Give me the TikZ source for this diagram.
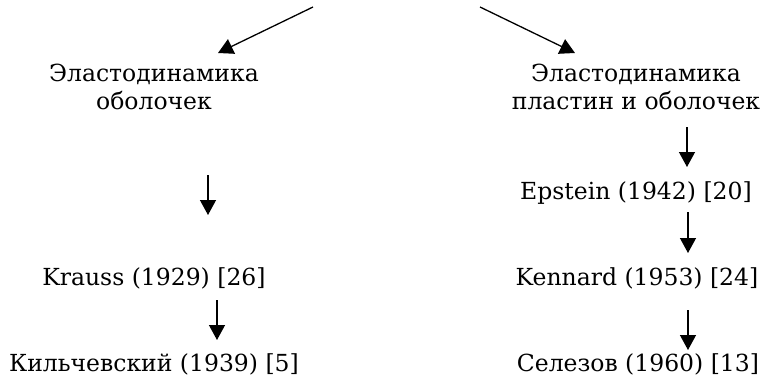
\documentclass[tikz,border=0pt]{standalone}
\usepackage{fontspec}
\setmainfont{DejaVu Serif}
\usetikzlibrary{arrows.meta}

\begin{document}
\begin{tikzpicture}[x=1pt,y=-1pt,
  lbl/.style={inner sep=0pt,align=center,font=\fontsize{23.5}{28}\selectfont},
  arr/.style={-{Triangle[length=15pt,width=16pt]},line width=1.3pt}]
 \useasboundingbox (0,0) rectangle (763,383);
 \node[lbl] at (154,87) (lshell) {Эластодинамика\\оболочек};
 \node[lbl] at (636,87) (rshell) {Эластодинамика\\пластин и оболочек};
 \node[lbl,anchor=base] at (154,285) (krauss) {Krauss (1929) [26]};
 \node[lbl,anchor=base] at (154,371) (kilch) {Кильчевский (1939) [5]};
 \node[lbl,anchor=base] at (636,199) (epstein) {Epstein (1942) [20]};
 \node[lbl,anchor=base] at (637,285) (kennard) {Kennard (1953) [24]};
 \node[lbl,anchor=base] at (638,371) (selez) {Селезов (1960) [13]};
 %
 \coordinate (t1) at (313,7);
 \coordinate (t2) at (480,7);
 \coordinate (l1) at (218,53);
 \coordinate (r1) at (575,53);
 \coordinate (l2a) at (208,175);
 \coordinate (l2b) at (208,215);
 \coordinate (l3a) at (217,300);
 \coordinate (l3b) at (217,340);
 \coordinate (r2a) at (687,127);
 \coordinate (r2b) at (687,167);
 \coordinate (r3a) at (688,212);
 \coordinate (r3b) at (688,253);
 \coordinate (r4a) at (688,310);
 \coordinate (r4b) at (688,350);
 \draw[arr] (t1) -- (l1);
 \draw[arr] (t2) -- (r1);
 \draw[arr] (l2a) -- (l2b);
 \draw[arr] (l3a) -- (l3b);
 \draw[arr] (r2a) -- (r2b);
 \draw[arr] (r3a) -- (r3b);
 \draw[arr] (r4a) -- (r4b);
\end{tikzpicture}
\end{document}
